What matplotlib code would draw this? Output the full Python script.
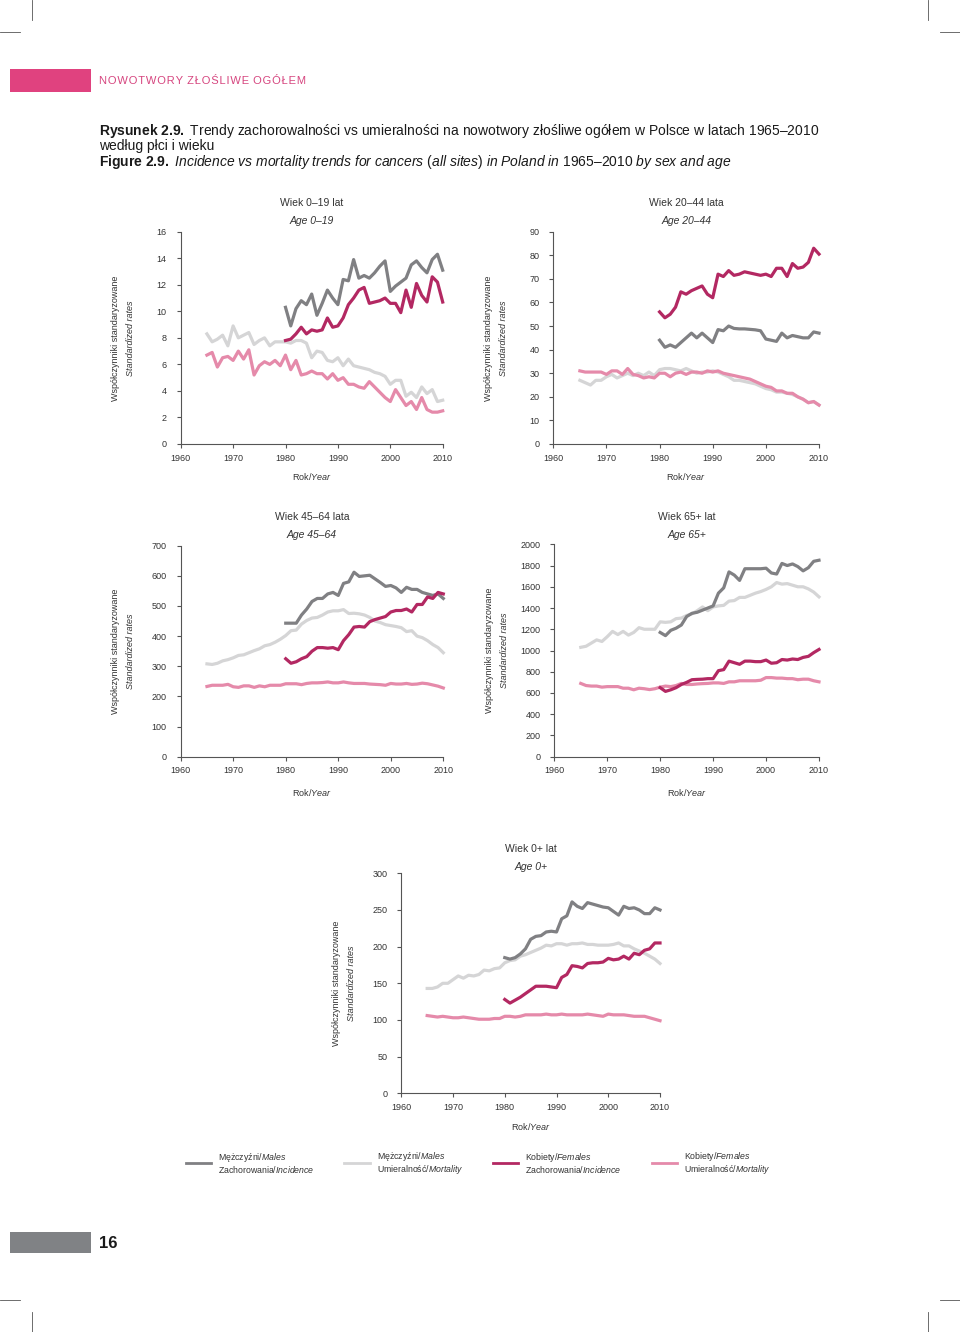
import numpy as np
import matplotlib
matplotlib.use("Agg")
import matplotlib.pyplot as plt
from matplotlib import font_manager
from matplotlib.patches import Rectangle
from matplotlib.lines import Line2D

# pick a narrow font if we have one
names = {f.name for f in font_manager.fontManager.ttflist}
FONT = "Liberation Sans Narrow" if "Liberation Sans Narrow" in names else "Liberation Sans"
plt.rcParams["font.family"] = [FONT, "DejaVu Sans"]
plt.rcParams["mathtext.fontset"] = "custom"
plt.rcParams["mathtext.rm"] = FONT
plt.rcParams["mathtext.it"] = FONT + ":italic"
plt.rcParams["mathtext.bf"] = FONT + ":bold"

# ---- data ----
years_mort = list(range(1965, 2011))
years_inc = list(range(1980, 2011))

# age 0-19
inc_m_0_19 = [10.3, 8.9, 10.2, 10.8, 10.5, 11.3, 9.7, 10.6, 11.6, 11.0, 10.5, 12.4, 12.3, 13.9, 12.5, 12.7,
              12.5, 12.9, 13.4, 13.8, 11.5, 11.9, 12.2, 12.5, 13.5, 13.8, 13.3, 12.9, 13.9, 14.3, 13.1]
inc_f_0_19 = [7.8, 7.9, 8.3, 8.8, 8.3, 8.6, 8.5, 8.6, 9.5, 8.8, 8.9, 9.5, 10.5, 11.0, 11.6, 11.8,
              10.6, 10.7, 10.8, 11.0, 10.6, 10.6, 9.9, 11.6, 10.3, 12.1, 11.2, 10.7, 12.6, 12.2, 10.7]
mort_m_0_19 = [8.3, 7.7, 7.9, 8.2, 7.4, 8.9, 8.0, 8.2, 8.4, 7.5, 7.8, 8.0, 7.4, 7.7, 7.7, 7.7,
               7.6, 7.8, 7.8, 7.6, 6.5, 7.0, 6.9, 6.3, 6.2, 6.5, 5.9, 6.4, 5.9, 5.8, 5.7, 5.6,
               5.4, 5.3, 5.1, 4.5, 4.8, 4.8, 3.6, 3.9, 3.5, 4.3, 3.8, 4.1, 3.2, 3.3]
mort_f_0_19 = [6.7, 6.9, 5.8, 6.5, 6.6, 6.3, 7.0, 6.4, 7.1, 5.2, 5.9, 6.2, 6.0, 6.3, 5.9, 6.7,
               5.6, 6.3, 5.2, 5.3, 5.5, 5.3, 5.3, 4.9, 5.3, 4.8, 5.0, 4.5, 4.5, 4.3, 4.2, 4.7,
               4.3, 3.9, 3.5, 3.2, 4.1, 3.5, 2.9, 3.2, 2.6, 3.5, 2.6, 2.4, 2.4, 2.5]

# age 20-44
inc_m_20_44 = [44, 41, 42, 41, 43, 45, 47, 45, 47, 45, 43, 48.5, 48, 50, 49, 48.8,
               48.8, 48.6, 48.4, 48, 44.5, 44, 43.5, 47, 45, 46, 45.5, 45, 45, 47.5, 47]
inc_f_20_44 = [56, 53.5, 55, 58, 64.5, 63.5, 65, 66, 67, 63.5, 62, 72, 71, 73.5, 71.5, 72,
               73, 72.5, 72, 71.5, 72, 71, 74.5, 74.5, 71, 76.5, 74.5, 75, 77, 83, 80.5]
mort_m_20_44 = [27, 26, 25, 27, 27, 28.5, 29.5, 28, 29, 30, 29, 30, 29, 30.5, 29, 31.5,
                32, 32, 31.5, 31, 32, 31, 30, 30.5, 30.5, 31, 30.5, 29.5, 28.5, 27, 27, 26.5,
                26, 25.5, 24.5, 23.5, 23, 22, 22, 21.5, 21, 20, 19, 17.5, 18, 16.5]
mort_f_20_44 = [31, 30.5, 30.5, 30.5, 30.5, 29.5, 31, 31, 29.5, 32, 29.5, 29, 28, 28.5, 28, 30,
                30, 28.5, 30, 30.5, 29.5, 30.5, 30.5, 30, 31, 30.5, 31, 30, 29.5, 29, 28.5, 28,
                27.5, 26.5, 25.5, 24.5, 24, 22.5, 22.5, 21.5, 21.5, 20, 19, 17.5, 18, 16.5]

# age 45-64
inc_m_45_64 = [443, 443, 443, 470, 490, 515, 525, 525, 540, 545, 535, 575, 580, 612, 598, 600,
               602, 590, 578, 565, 568, 560, 545, 562, 555, 555, 545, 540, 535, 540, 525]
inc_f_45_64 = [325, 310, 315, 325, 332, 350, 362, 362, 360, 362, 355, 385, 405, 430, 432, 430,
               448, 455, 460, 465, 480, 485, 485, 490, 480, 505, 505, 530, 525, 545, 540]
mort_m_45_64 = [308, 306, 310, 318, 322, 328, 336, 338, 345, 352, 358, 368, 372, 380, 390, 402,
                418, 420, 440, 452, 460, 462, 470, 480, 484, 484, 488, 475, 476, 474, 470, 462,
                450, 445, 438, 435, 432, 428, 415, 418, 400, 395, 385, 372, 362, 345]
mort_f_45_64 = [233, 237, 237, 237, 240, 232, 230, 235, 235, 230, 235, 232, 237, 237, 237, 242,
                242, 242, 239, 243, 245, 245, 246, 248, 245, 245, 248, 245, 243, 243, 243, 241,
                240, 239, 237, 243, 241, 241, 243, 240, 241, 244, 242, 238, 234, 228]

# age 65+
inc_m_65 = [1170, 1140, 1190, 1210, 1240, 1320, 1350, 1360, 1380, 1400, 1420, 1540, 1590, 1740, 1710, 1660,
            1770, 1770, 1770, 1770, 1775, 1730, 1720, 1820, 1800, 1815, 1790, 1750, 1780, 1840, 1850]
inc_f_65 = [650, 615, 630, 650, 680, 700, 725, 728, 730, 735, 735, 810, 820, 900, 885, 870,
            900, 900, 895, 895, 910, 880, 885, 915, 910, 920, 915, 935, 945, 980, 1010]
mort_m_65 = [1030, 1040, 1070, 1100, 1085, 1130, 1180, 1150, 1180, 1145, 1170, 1215, 1200, 1200, 1200, 1270,
             1265, 1270, 1300, 1305, 1330, 1345, 1375, 1410, 1375, 1410, 1420, 1425, 1465, 1470, 1500, 1500,
             1520, 1540, 1555, 1575, 1600, 1640, 1625, 1630, 1615, 1600, 1600, 1580, 1550, 1505]
mort_f_65 = [690, 670, 665, 665, 655, 660, 660, 660, 645, 645, 630, 645, 640, 632, 640, 655,
             665, 660, 670, 690, 680, 680, 685, 688, 690, 695, 695, 690, 705, 705, 715, 715,
             715, 715, 720, 745, 745, 740, 740, 735, 735, 725, 730, 730, 715, 705]

# age 0+
inc_m_all = [185, 183, 185, 190, 197, 210, 214, 215, 220, 221, 220, 238, 242, 261, 255, 252,
             260, 258, 256, 254, 253, 248, 243, 255, 252, 253, 250, 245, 245, 253, 250]
inc_f_all = [128, 123, 127, 131, 136, 141, 146, 146, 146, 145, 144, 158, 162, 174, 173, 171,
             177, 178, 178, 179, 184, 182, 183, 187, 183, 191, 189, 195, 197, 205, 205]
mort_m_all = [143, 143, 145, 150, 150, 155, 160, 157, 161, 160, 162, 168, 167, 170, 171, 178,
              181, 182, 187, 189, 192, 195, 198, 202, 201, 204, 204, 202, 204, 204, 205, 203,
              203, 202, 202, 202, 203, 205, 201, 201, 197, 194, 191, 187, 183, 177]
mort_f_all = [106, 105, 104, 105, 104, 103, 103, 104, 103, 102, 101, 101, 101, 102, 102, 105,
              105, 104, 105, 107, 107, 107, 107, 108, 107, 107, 108, 107, 107, 107, 107, 108,
              107, 106, 105, 108, 107, 107, 107, 106, 105, 105, 105, 103, 101, 99]

C_MINC = "#808083"
C_MMORT = "#d5d5d6"
C_FINC = "#b32862"
C_FMORT = "#e58aaa"
AXC = "#555555"

W, H = 960, 1332
fig = plt.figure(figsize=(9.6, 13.32), dpi=100)

# overlay in pixel coords for page decorations
bg = fig.add_axes([0, 0, 1, 1])
bg.set_xlim(0, W)
bg.set_ylim(H, 0)
bg.axis("off")

def px_axes(x0, x1, ybot, ytop):
    return fig.add_axes([x0 / W, 1 - ybot / H, (x1 - x0) / W, (ybot - ytop) / H])

def panel(rect, ymax, ystep, series, title_pl, title_en, tdy=(28.7, 10.7), xl_dy=33):
    x0, x1, ybot, ytop = rect
    ax = px_axes(x0, x1, ybot, ytop)
    mm, mf, im, if_ = series
    ax.plot(years_mort, mm, color=C_MMORT, lw=2.3, solid_joinstyle="round")
    ax.plot(years_mort, mf, color=C_FMORT, lw=2.3, solid_joinstyle="round")
    ax.plot(years_inc, im, color=C_MINC, lw=2.3, solid_joinstyle="round")
    ax.plot(years_inc, if_, color=C_FINC, lw=2.3, solid_joinstyle="round")
    ax.set_xlim(1960, 2010)
    ax.set_ylim(0, ymax)
    ax.set_xticks(range(1960, 2011, 10))
    ax.set_yticks(np.arange(0, ymax + ystep / 2, ystep))
    ax.spines[["top", "right"]].set_visible(False)
    for s in ["left", "bottom"]:
        ax.spines[s].set_color(AXC)
        ax.spines[s].set_linewidth(0.8)
    ax.tick_params(axis="both", length=3, width=0.8, color=AXC, labelsize=6.5, labelcolor="#333333")
    ax.tick_params(axis="y", pad=7)
    ax.tick_params(axis="x", pad=4)
    for ln in ax.lines:
        ln.set_clip_on(False)
    cx = (x0 + x1) / 2
    cy = (ybot + ytop) / 2
    bg.text(cx, ytop - tdy[0], title_pl, ha="center", va="center", fontsize=7.5, color="#333333")
    bg.text(cx, ytop - tdy[1], title_en, ha="center", va="center", fontsize=7.5, style="italic", color="#333333")
    bg.text(x0 - 65, cy, "Współczynniki standaryzowane", rotation=90, ha="center", va="center",
            fontsize=6.5, color="#333333")
    bg.text(x0 - 50, cy, "Standardized rates", rotation=90, ha="center", va="center",
            fontsize=6.5, style="italic", color="#333333")
    bg.text(cx, ybot + xl_dy, r"Rok/$\it{Year}$", ha="center", va="center", fontsize=6.5, color="#333333")
    return ax

panel((180.7, 442.7, 444, 231.7), 16, 2, (mort_m_0_19, mort_f_0_19, inc_m_0_19, inc_f_0_19),
      "Wiek 0–19 lat", "Age 0–19", xl_dy=32)
panel((553.3, 819, 444, 231.7), 90, 10, (mort_m_20_44, mort_f_20_44, inc_m_20_44, inc_f_20_44),
      "Wiek 20–44 lata", "Age 20–44", xl_dy=32)
panel((180.7, 443.3, 756.7, 545.7), 700, 100, (mort_m_45_64, mort_f_45_64, inc_m_45_64, inc_f_45_64),
      "Wiek 45–64 lata", "Age 45–64", xl_dy=36)
panel((554.3, 819, 756.7, 544.3), 2000, 200, (mort_m_65, mort_f_65, inc_m_65, inc_f_65),
      "Wiek 65+ lat", "Age 65+", tdy=(27.3, 9.3), xl_dy=36)
panel((401.3, 660, 1093.3, 873.3), 300, 50, (mort_m_all, mort_f_all, inc_m_all, inc_f_all),
      "Wiek 0+ lat", "Age 0+", tdy=(24.3, 6.3), xl_dy=33)

# legend
handles = [Line2D([], [], color=c, lw=2.0) for c in (C_MINC, C_MMORT, C_FINC, C_FMORT)]
labels = ["Mężczyźni/$\\it{Males}$\nZachorowania/$\\it{Incidence}$",
          "Mężczyźni/$\\it{Males}$\nUmieralność/$\\it{Mortality}$",
          "Kobiety/$\\it{Females}$\nZachorowania/$\\it{Incidence}$",
          "Kobiety/$\\it{Females}$\nUmieralność/$\\it{Mortality}$"]
leg = fig.legend(handles, labels, loc="center", bbox_to_anchor=(478 / W, 1 - 1163 / H), ncol=4,
                 frameon=False, fontsize=6.3, handlelength=2.9, handletextpad=0.8, columnspacing=3.4,
                 labelcolor="#333333")
for t in leg.get_texts():
    t.set_linespacing(0.95)

# page header
header = "\u200a\u2009\u200a".join("\u200a".join(w) for w in "NOWOTWORY ZŁOŚLIWE OGÓŁEM".split())
bg.add_patch(Rectangle((10, 69), 81, 23, color="#e0427f", lw=0))
bg.text(99, 81, header, ha="left", va="center", fontsize=8, color="#d6457f")
bg.text(99, 131, r"$\bf{Rysunek\ 2.9.}$ Trendy zachorowalności vs umieralności na nowotwory złośliwe ogółem w Polsce w latach 1965–2010",
        ha="left", va="center", fontsize=10, color="#1a1a1a")
bg.text(99, 146, "według płci i wieku", ha="left", va="center", fontsize=10, color="#1a1a1a")
bg.text(99, 162, r"$\bf{Figure\ 2.9.}$ $\it{Incidence\ vs\ mortality\ trends\ for\ cancers\ (all\ sites)\ in\ Poland\ in\ 1965–2010\ by\ sex\ and\ age}$",
        ha="left", va="center", fontsize=10, color="#1a1a1a")

# page footer
bg.add_patch(Rectangle((10, 1232), 81, 21, color="#808285", lw=0))
bg.text(99, 1243, "16", ha="left", va="center", fontsize=12, weight="bold", color="#1a1a1a")

# crop marks
for (xa, xb, ya, yb) in [(32, 32, 0, 20), (928, 928, 0, 20), (0, 20, 32, 32), (940, 960, 32, 32),
                         (32, 32, 1312, 1332), (928, 928, 1312, 1332), (0, 20, 1300, 1300), (940, 960, 1300, 1300)]:
    bg.plot([xa, xb], [ya, yb], color="#555555", lw=0.6)

fig.savefig("out.png", dpi=100)
